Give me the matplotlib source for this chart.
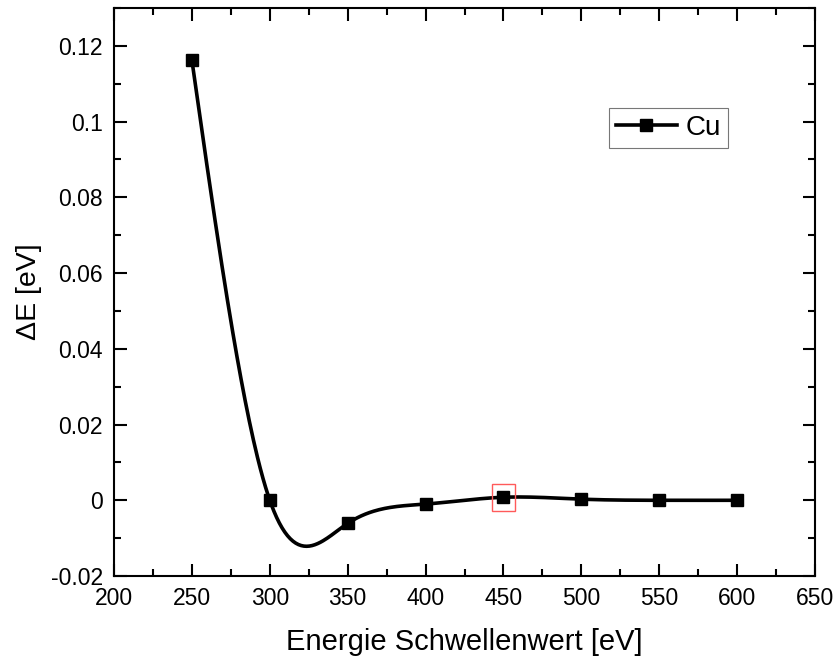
import matplotlib.pyplot as plt
import numpy as np
from matplotlib.patches import Rectangle
from matplotlib.ticker import MultipleLocator, FuncFormatter

plt.rcParams['font.family'] = ['Liberation Sans', 'DejaVu Sans']

energie = np.array([250, 300, 350, 400, 450, 500, 550, 600], dtype=float)
delta_e = np.array([0.1162, 0.0, -0.0061, -0.0010, 0.0008, 0.0003, 0.0000, 0.0000])
markiert = 4  # index of selected point (red box)


def natural_spline(x, y, n=400):
    # natural cubic spline, only used to draw the smooth connecting line
    k = len(x)
    h = np.diff(x)
    A = np.zeros((k, k))
    r = np.zeros(k)
    A[0, 0] = A[-1, -1] = 1
    for i in range(1, k - 1):
        A[i, i - 1] = h[i - 1]
        A[i, i] = 2 * (h[i - 1] + h[i])
        A[i, i + 1] = h[i]
        r[i] = 6 * ((y[i + 1] - y[i]) / h[i] - (y[i] - y[i - 1]) / h[i - 1])
    m = np.linalg.solve(A, r)
    xs = np.linspace(x[0], x[-1], n)
    idx = np.clip(np.searchsorted(x, xs) - 1, 0, k - 2)
    x0, x1 = x[idx], x[idx + 1]
    hh = x1 - x0
    t0, t1 = x1 - xs, xs - x0
    ys = (m[idx] * t0**3 + m[idx + 1] * t1**3) / (6 * hh) \
        + (y[idx] / hh - m[idx] * hh / 6) * t0 \
        + (y[idx + 1] / hh - m[idx + 1] * hh / 6) * t1
    return xs, ys


fig = plt.figure(figsize=(8.39, 6.59), dpi=100)
ax = fig.add_axes([0.1359, 0.1259, 0.8355, 0.862])

xs, ys = natural_spline(energie, delta_e)
ax.plot(xs, ys, color='black', lw=2.6, zorder=3)
ax.plot(energie, delta_e, 's', color='black', ms=8.5, zorder=4)
ax.plot([], [], '-s', color='black', lw=2.6, ms=8.5, label='Cu')

ax.add_patch(Rectangle((energie[markiert] - 7.5, delta_e[markiert] - 0.0036), 15, 0.0072,
                       fill=False, edgecolor='#ff5a5a', lw=1.0, zorder=5))

ax.set_xlim(200, 650)
ax.set_ylim(-0.02, 0.13)
ax.xaxis.set_major_locator(MultipleLocator(50))
ax.xaxis.set_minor_locator(MultipleLocator(25))
ax.yaxis.set_major_locator(MultipleLocator(0.02))
ax.yaxis.set_minor_locator(MultipleLocator(0.01))
ax.yaxis.set_major_formatter(FuncFormatter(lambda v, p: '0' if abs(v) < 1e-9 else f'{v:.2f}'.rstrip('0')))

ax.tick_params(which='both', direction='in', top=True, right=True, labelsize=16.5, width=1.5, pad=8)
ax.tick_params(which='major', length=9)
ax.tick_params(which='minor', length=5)
for s in ax.spines.values():
    s.set_linewidth(1.5)

ax.set_xlabel('Energie Schwellenwert [eV]', fontsize=21, labelpad=13)
ax.set_ylabel('ΔE [eV]', fontsize=20.5, labelpad=6)

leg = ax.legend(loc='upper right', bbox_to_anchor=(0.895, 0.849), fontsize=20, frameon=True,
                fancybox=False, edgecolor='#555555', handlelength=2.2, borderpad=0.25,
                handletextpad=0.3)
leg.get_frame().set_linewidth(0.8)

plt.savefig('out.png', dpi=100)
